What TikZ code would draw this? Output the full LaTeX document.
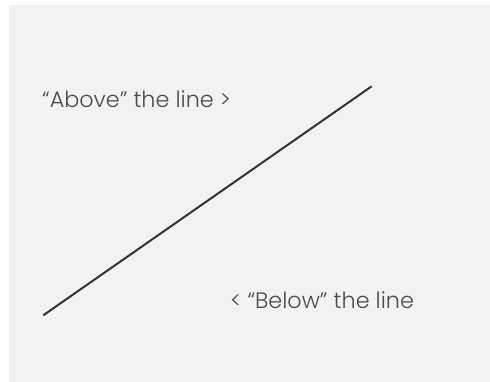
\documentclass[tikz,border=0pt]{standalone}
\usepackage{fontspec}
\setmainfont{Poppins}[UprightFont=* Light]
\definecolor{bg}{HTML}{F2F2F2}
\definecolor{ink}{HTML}{333333}
\definecolor{txt}{HTML}{4A4A4A}
\begin{document}
\begin{tikzpicture}[x=1pt,y=1pt,
  lbl/.style={inner sep=0pt,text=txt,font=\fontsize{22.3}{26}\selectfont}]
\useasboundingbox (0,0) rectangle (490,382);
\fill[bg] (9,0) rectangle (490,377);
\coordinate (p) at (43.3,66.7);
\coordinate (q) at (371.7,295.7);
\draw[ink,line width=2pt] (p) -- (q);
\node[lbl,anchor=base west] (above) at (42,274.7) {“Above” the line >};
\node[lbl,anchor=base west] (below) at (230,73) {< “Below” the line};
\end{tikzpicture}
\end{document}
